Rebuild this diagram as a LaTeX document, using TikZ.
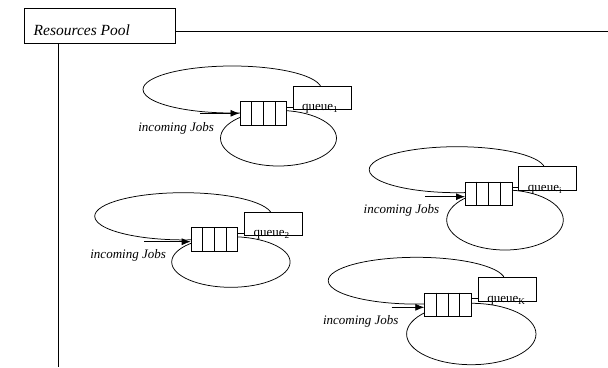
\documentclass[tikz,border=0pt]{standalone}
\usepackage{fontspec}
\setmainfont{Liberation Serif}
\usetikzlibrary{arrows.meta,calc}
\tikzset{
  queuebox/.style={draw, fill=white, minimum width=46.5pt, minimum height=23.5pt, inner sep=0pt, anchor=north west},
  labelbox/.style={draw, fill=white, minimum width=58pt, minimum height=23.5pt, inner sep=0pt, anchor=north west},
  qtext/.style={inner sep=0pt, anchor=base west, font=\fontsize{13}{15}\selectfont},
  jobtext/.style={inner sep=0pt, anchor=base west, font=\fontsize{13}{15}\selectfont\itshape},
  titletext/.style={inner sep=0pt, anchor=base west, font=\fontsize{15.5}{18}\selectfont\itshape},
  jobarrow/.style={-{Latex[length=9pt,width=7pt]}},
}
% three dividers that split a queue box into four cells
\newcommand\queuecells[1]{%
  \foreach \k in {1,2,3}
    \draw ($(#1.north west)!\k/4!(#1.north east)$) -- ($(#1.south west)!\k/4!(#1.south east)$);}
\begin{document}
\begin{tikzpicture}[line width=0.75pt]
\useasboundingbox (0,0) rectangle (608pt,-367pt);

% title box with the pool frame lines
\node[draw, minimum width=151pt, minimum height=34.4pt, anchor=north west, inner sep=0pt] (pool) at (24pt,-8.3pt) {};
\node[titletext] (pooltext) at (33.3pt,-35.7pt) {Resources Pool};
\coordinate (rightend) at (608pt,-31.7pt);
\coordinate (bottomend) at (58.7pt,-367pt);
\draw (pool.east |- rightend) -- (rightend);
\draw (pool.south -| bottomend) -- (bottomend);

% unit 1
\begin{scope}[shift={(239.5pt,-101pt)}]
  \draw (-7.25pt,11.5pt) ++(0:89.25pt and 23.5pt) arc[start angle=0,end angle=280,x radius=89.25pt,y radius=23.5pt];
  \draw (39pt,-37.2pt) ellipse[x radius=58pt,y radius=27.8pt];
  \node[queuebox] (q1) at (0,0) {};
  \queuecells{q1}
  \node[labelbox] (l1) at (53pt,15.3pt) {};
  \coordinate (t1) at ([yshift=6pt]q1.east);
  \draw (t1) -- (t1 -| l1.west);
  \node[qtext] (n1) at ($(l1.south west)+(9.3pt,-1pt)$) {queue\textsubscript{1}};
  \coordinate (s1) at (-39.5pt,-12.3pt);
  \draw[jobarrow] (s1) -- (s1 -| q1.west);
  \node[jobtext] (j1) at (-101.5pt,-30.7pt) {incoming Jobs};
\end{scope}

% unit 2
\begin{scope}[shift={(190.7pt,-227.3pt)}]
  \draw (-7.3pt,11pt) ++(0:88.7pt and 23.6pt) arc[start angle=0,end angle=280,x radius=88.7pt,y radius=23.6pt];
  \draw (40.2pt,-34.7pt) ellipse[x radius=59.2pt,y radius=25.3pt];
  \node[queuebox] (q2) at (0,0) {};
  \queuecells{q2}
  \node[labelbox] (l2) at (53.3pt,15.6pt) {};
  \coordinate (t2) at ([yshift=6pt]q2.east);
  \draw (t2) -- (t2 -| l2.west);
  \node[qtext] (n2) at ($(l2.south west)+(9.3pt,-1pt)$) {queue\textsubscript{2}};
  \coordinate (s2) at (-46.7pt,-14.4pt);
  \draw[jobarrow] (s2) -- (s2 -| q2.west);
  \node[jobtext] (j2) at (-100.7pt,-30.7pt) {incoming Jobs};
\end{scope}

% unit i
\begin{scope}[shift={(465pt,-181.7pt)}]
  \draw (-7.9pt,12pt) ++(0:87.9pt and 23pt) arc[start angle=0,end angle=280,x radius=87.9pt,y radius=23pt];
  \draw (40pt,-38.3pt) ellipse[x radius=58.3pt,y radius=30pt];
  \node[queuebox] (q3) at (0,0) {};
  \queuecells{q3}
  \node[labelbox] (l3) at (53.3pt,15.7pt) {};
  \coordinate (t3) at ([yshift=6pt]q3.east);
  \draw (t3) -- (t3 -| l3.west);
  \node[qtext] (n3) at ($(l3.south west)+(9.3pt,-1pt)$) {queue\textsubscript{i}};
  \coordinate (s3) at (-40pt,-15pt);
  \draw[jobarrow] (s3) -- (s3 -| q3.west);
  \node[jobtext] (j3) at (-101.7pt,-31.6pt) {incoming Jobs};
\end{scope}

% unit K
\begin{scope}[shift={(424.3pt,-292.7pt)}]
  \draw (-7.7pt,12pt) ++(0:88.4pt and 23.4pt) arc[start angle=0,end angle=280,x radius=88.4pt,y radius=23.4pt];
  \draw (47pt,-41.3pt) ellipse[x radius=64.7pt,y radius=30.7pt];
  \node[queuebox] (q4) at (0,0) {};
  \queuecells{q4}
  \node[labelbox] (l4) at (53.4pt,15.4pt) {};
  \coordinate (t4) at ([yshift=6pt]q4.east);
  \draw (t4) -- (t4 -| l4.west);
  \node[qtext] (n4) at ($(l4.south west)+(9.3pt,-1pt)$) {queue\textsubscript{K}};
  \coordinate (s4) at (-32.6pt,-14.6pt);
  \draw[jobarrow] (s4) -- (s4 -| q4.west);
  \node[jobtext] (j4) at (-101.6pt,-31.3pt) {incoming Jobs};
\end{scope}
\end{tikzpicture}
\end{document}
